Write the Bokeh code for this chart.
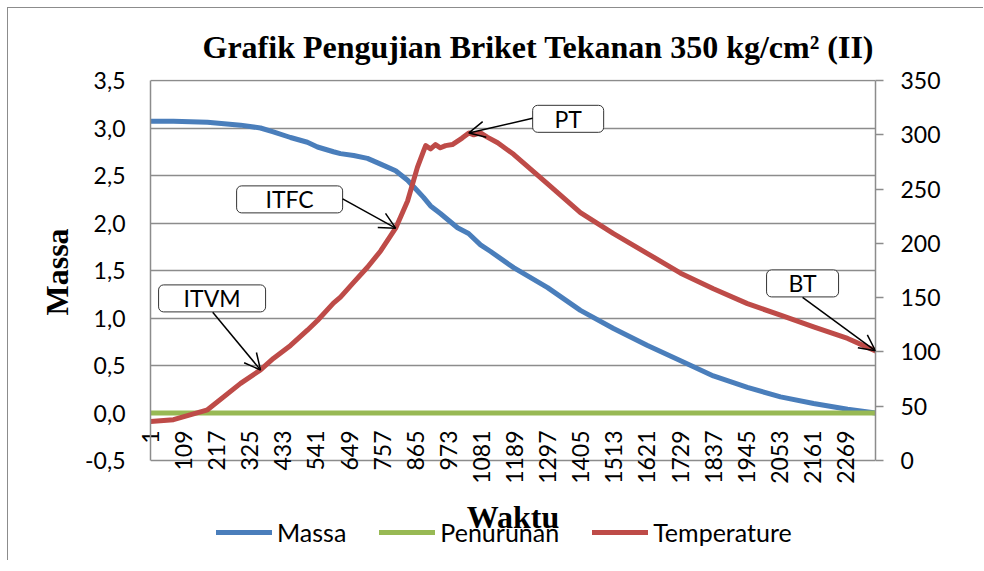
from bokeh.plotting import figure
from bokeh.models import (Range1d, LinearAxis, FixedTicker, CustomJSTickFormatter, Legend,
                          LegendItem, Arrow, OpenHead, ColumnDataSource, Title)
from bokeh.embed import file_html
from bokeh.resources import INLINE
from bokeh.core.properties import value

# ---------------- data ----------------
title_text = "Grafik Pengujian Briket Tekanan 350 kg/cm² (II)"
x_title = "Waktu"
y_title = "Massa"

x_tick_labels = [1, 109, 217, 325, 433, 541, 649, 757, 865, 973, 1081, 1189, 1297,
                 1405, 1513, 1621, 1729, 1837, 1945, 2053, 2161, 2269]
y_ticks = [-0.5, 0.0, 0.5, 1.0, 1.5, 2.0, 2.5, 3.0, 3.5]
temp_ticks = [0, 50, 100, 150, 200, 250, 300, 350]

waktu = [1, 76, 187, 295, 360, 402, 458, 513, 546, 598, 621, 664, 709, 752, 801,
         840, 872, 892, 915, 947, 1003, 1039, 1078, 1111, 1186, 1297, 1404, 1512,
         1623, 1731, 1838, 1949, 2057, 2165, 2276, 2367]
massa = [3.07, 3.07, 3.06, 3.03, 3.00, 2.96, 2.90, 2.85, 2.80, 2.75, 2.73, 2.71,
         2.68, 2.62, 2.55, 2.45, 2.34, 2.27, 2.18, 2.10, 1.95, 1.89, 1.77, 1.70,
         1.53, 1.32, 1.08, 0.89, 0.71, 0.55, 0.39, 0.27, 0.17, 0.10, 0.04, 0.00]
penurunan = [0.0, 0.0, 0.0, 0.0, 0.0, 0.0, 0.0, 0.0, 0.0, 0.0, 0.0, 0.0,
             0.0, 0.0, 0.0, 0.0, 0.0, 0.0, 0.0, 0.0, 0.0, 0.0, 0.0, 0.0,
             0.0, 0.0, 0.0, 0.0, 0.0, 0.0, 0.0, 0.0, 0.0, 0.0, 0.0, 0.0]

waktu_t = [1, 76, 187, 295, 360, 402, 458, 513, 546, 598, 621, 664, 709, 752, 801,
           840, 872, 892, 899, 915, 931, 947, 964, 986, 1002, 1018, 1040, 1056, 1078,
           1100, 1134, 1186, 1297, 1404, 1512, 1623, 1731, 1838, 1949, 2057, 2165,
           2276, 2367]
temperature = [36, 37.6, 46.7, 71, 83.4, 94, 106, 120, 129, 145, 150.5, 164, 178,
               193, 214, 239, 270, 285, 290, 287, 291, 288, 290, 291, 294, 297,
               301.7, 300, 301.7, 297.8, 292.6, 282, 254.7, 228.4, 208.9, 190.6,
               172.5, 158.2, 144.5, 133.8, 123, 112.4, 101]

# annotation callouts (positions in data units of the temperature axis)
ann_labels = ["ITVM", "ITFC", "PT", "BT"]
ann_target = [360, 801, 1040, 2367]
ann_box_x = [202, 455, 1364, 2129]
ann_box_y = [149.3, 240.5, 314.7, 163.1]
ann_box_w = [107, 106, 71, 72]
ann_start_x = [204, 628, 1248, 2129]
ann_start_y = [136.5, 241, 315.2, 150.3]

# ---------------- styling / layout ----------------
BLUE = "#4A7EBB"
GREEN = "#98B954"
RED = "#BE4B48"
GRID = "#8C8C8C"
SANS = "Lato"
SERIF = "Liberation Serif"

# The frame is extended below the value axis so the legend (drawn inside the
# frame) can sit under the axis title; the value scale is 95 px per unit.
PX_PER_UNIT = 95.0
FRAME_H = 481
y_top = 3.5 + 1 / PX_PER_UNIT
y_bottom = y_top - FRAME_H / PX_PER_UNIT
temp_per_unit = 350 / 4.0
t_bottom = (y_bottom + 0.5) * temp_per_unit
t_top = (y_top + 0.5) * temp_per_unit

p = figure(frame_width=725, frame_height=FRAME_H,
           min_border_left=142, min_border_right=108,
           min_border_top=71, min_border_bottom=0,
           x_range=Range1d(1, 2367), y_range=Range1d(y_bottom, y_top),
           output_backend="svg", toolbar_location=None)
p.extra_y_ranges = {"temp": Range1d(t_bottom, t_top)}
p.styles = {"margin-left": "7px", "margin-top": "7px",
            "border-left": "1px solid #8C8C8C", "border-top": "1px solid #8C8C8C"}
p.background_fill_color = "white"
p.border_fill_color = "white"
p.outline_line_color = None

# title
p.title.text = title_text
p.title.text_font = SERIF
p.title.text_font_style = "bold"
p.title.text_font_size = "32px"
p.title.text_color = "black"
p.title.align = "left"
p.title.offset = 52
p.title.standoff = 29

# grid
p.xgrid.visible = False
p.ygrid.ticker = FixedTicker(ticks=y_ticks)
p.ygrid.grid_line_color = GRID
p.ygrid.grid_line_width = 1.5

# left axis
ya = p.yaxis[0]
ya.ticker = FixedTicker(ticks=y_ticks)
ya.bounds = (y_ticks[0], y_ticks[-1])
ya.formatter = CustomJSTickFormatter(code="return tick.toFixed(1).replace('.', ',');")
ya.axis_line_color = GRID
ya.axis_line_width = 1.5
ya.major_tick_out = 0
ya.major_tick_in = 0
ya.minor_tick_out = 0
ya.minor_tick_in = 0
ya.major_label_standoff = 25
ya.major_label_text_font = SANS
ya.major_label_text_font_size = "23px"
ya.major_label_text_color = "black"

# left axis title (placed as a side title so it centres on the value range)
ytitle = Title(text=y_title, align="left", offset=245, standoff=16,
               text_font=SERIF, text_font_style="bold", text_font_size="32px",
               text_color="black")
p.add_layout(ytitle, "left")

# bottom axis
xa = p.xaxis[0]
xa.ticker = FixedTicker(ticks=x_tick_labels)
xa.major_label_orientation = 1.5707963267948966
xa.axis_line_color = None
xa.major_tick_out = 0
xa.major_tick_in = 0
xa.minor_tick_out = 0
xa.minor_tick_in = 0
xa.major_label_standoff = -130
xa.major_label_text_font = SANS
xa.major_label_text_font_size = "23px"
xa.major_label_text_color = "black"
xa.axis_label = x_title
xa.axis_label_text_font = SERIF
xa.axis_label_text_font_style = "bold"
xa.axis_label_text_font_size = "32px"
xa.axis_label_text_color = "black"
xa.axis_label_standoff = 12

# right axis
ra = LinearAxis(y_range_name="temp", ticker=FixedTicker(ticks=temp_ticks))
ra.bounds = (temp_ticks[0], temp_ticks[-1])
ra.axis_line_color = GRID
ra.axis_line_width = 1.5
ra.major_tick_out = 8
ra.major_tick_in = 0
ra.minor_tick_out = 0
ra.minor_tick_in = 0
ra.major_tick_line_color = GRID
ra.major_tick_line_width = 1.5
ra.major_label_standoff = 17
ra.major_label_text_font = SANS
ra.major_label_text_font_size = "23px"
ra.major_label_text_color = "black"
p.add_layout(ra, "right")

# series
r_m = p.line(waktu, massa, line_color=BLUE, line_width=5, line_cap="round", line_join="round")
r_p = p.line(waktu, penurunan, line_color=GREEN, line_width=5, line_cap="round", line_join="round")
r_t = p.line(waktu_t, temperature, line_color=RED, line_width=5, line_cap="round",
             line_join="round", y_range_name="temp")

# callouts
temp_at = dict(zip(waktu_t, temperature))
arrow_src = ColumnDataSource(dict(
    xs=ann_start_x, ys=ann_start_y,
    xe=ann_target, ye=[temp_at[t] for t in ann_target]))
arr = Arrow(end=OpenHead(size=16, line_width=1.5, line_color="black"),
            x_start="xs", y_start="ys", x_end="xe", y_end="ye", source=arrow_src,
            line_color="black", line_width=1.5, y_range_name="temp")
p.add_layout(arr)

box_src = ColumnDataSource(dict(x=ann_box_x, y=ann_box_y, w=ann_box_w, text=ann_labels))
boxes = p.rect(x="x", y="y", width="w", height=27, width_units="screen", height_units="screen",
               source=box_src, fill_color="white", line_color="#333333", line_width=1,
               y_range_name="temp")
try:
    boxes.glyph.border_radius = 5
except Exception:
    pass
p.text(x="x", y="y", text="text", source=box_src, text_align="center", text_baseline="middle",
       text_font=value(SANS), text_font_size="23px", text_color="black", y_range_name="temp")

# legend (inside the extended frame, under the axis title)
legend = Legend(items=[LegendItem(label="Massa", renderers=[r_m]),
                       LegendItem(label="Penurunan", renderers=[r_p]),
                       LegendItem(label="Temperature", renderers=[r_t])],
                orientation="horizontal", location=(66, 13),
                glyph_width=56, glyph_height=28, label_height=28, label_standoff=5,
                spacing=33, padding=0, margin=0, border_line_color=None,
                background_fill_alpha=0,
                label_text_font=SANS, label_text_font_size="25px", label_text_color="black")
p.add_layout(legend)

open("out.html", "w").write(file_html(p, INLINE))
